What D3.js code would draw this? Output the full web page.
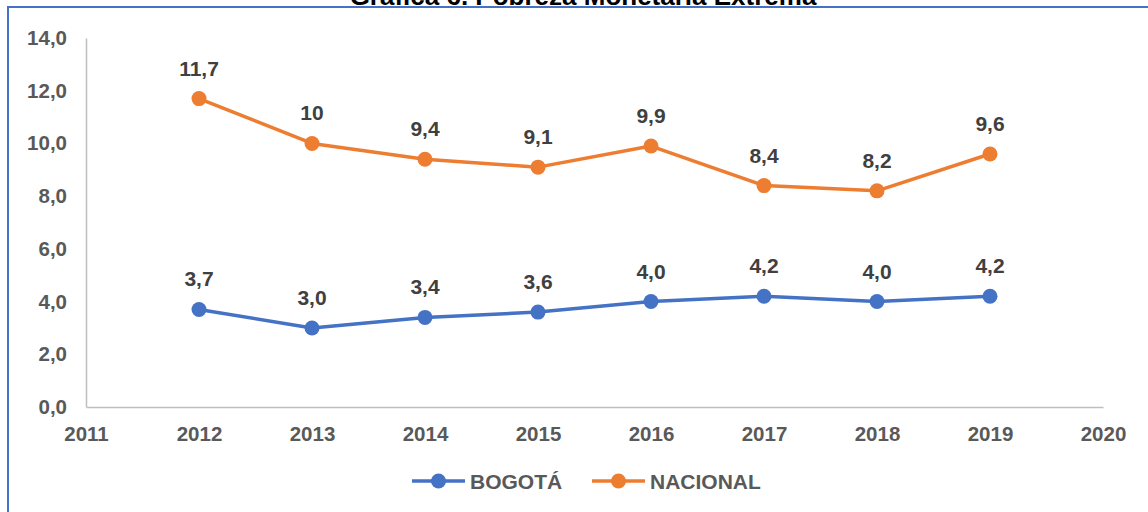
<!DOCTYPE html>
<html>
<head>
<meta charset="utf-8">
<script src="https://cdn.jsdelivr.net/npm/d3@7"></script>
<style>
  html, body { margin: 0; padding: 0; background: #fff; overflow: hidden; }
  text { font-family: "Liberation Sans", Arial, sans-serif; font-weight: bold; }
</style>
</head>
<body>
<div id="chart"></div>
<script>
    // ---------- Data ----------
    const years = [2012, 2013, 2014, 2015, 2016, 2017, 2018, 2019];
    const bogota = [3.7, 3.0, 3.4, 3.6, 4.0, 4.2, 4.0, 4.2];
    const nacional = [11.7, 10, 9.4, 9.1, 9.9, 8.4, 8.2, 9.6];
    const bogotaLabels = ["3,7", "3,0", "3,4", "3,6", "4,0", "4,2", "4,0", "4,2"];
    const nacionalLabels = ["11,7", "10", "9,4", "9,1", "9,9", "8,4", "8,2", "9,6"];
    const yTicks = [0, 2, 4, 6, 8, 10, 12, 14];
    const xTicks = [2011, 2012, 2013, 2014, 2015, 2016, 2017, 2018, 2019, 2020];
    const seriesNames = ["BOGOTÁ", "NACIONAL"];
    const title = "Gráfica 6. Pobreza Monetaria Extrema";

    const W = 1148, H = 512;
    const colors = ["#4472C4", "#ED7D31"];

    const svg = d3.select("#chart").append("svg")
        .attr("width", W)
        .attr("height", H);

    // frame (runs past the window on right and bottom)
    svg.append("rect")
        .attr("x", 8).attr("y", 7)
        .attr("width", 1200).attr("height", 600)
        .attr("fill", "none")
        .attr("stroke", "#4472C4")
        .attr("stroke-width", 2);

    // title, cropped at the top like the source
    svg.append("text")
        .attr("x", 583).attr("y", 5)
        .attr("text-anchor", "middle")
        .attr("font-size", 26)
        .attr("fill", "#000")
        .text(title);

    // ---------- Scales ----------
    const x = d3.scaleLinear().domain([2011, 2020]).range([86, 1103]);
    const y = d3.scaleLinear().domain([0, 14]).range([407, 38]);

    // ---------- Axes ----------
    const fmt = d => d3.format(".1f")(d).replace(".", ",");

    const yAxis = svg.append("g")
        .attr("transform", "translate(86,0)")
        .call(d3.axisLeft(y).tickValues(yTicks).tickSize(0).tickPadding(19).tickFormat(fmt));
    yAxis.select(".domain").attr("stroke", "#BFBFBF").attr("stroke-width", 1.5);
    yAxis.selectAll("text")
        .attr("font-size", 20.5)
        .attr("font-family", "Liberation Sans, Arial, sans-serif")
        .attr("fill", "#595959");

    const xAxis = svg.append("g")
        .attr("transform", "translate(0,407)")
        .call(d3.axisBottom(x).tickValues(xTicks).tickSize(0).tickPadding(19).tickFormat(d3.format("d")));
    xAxis.select(".domain").attr("stroke", "#BFBFBF").attr("stroke-width", 1.5);
    xAxis.selectAll("text")
        .attr("font-size", 20.5)
        .attr("font-family", "Liberation Sans, Arial, sans-serif")
        .attr("fill", "#595959");

    // ---------- Series ----------
    const series = [
        { name: seriesNames[0], values: bogota, labels: bogotaLabels, color: colors[0] },
        { name: seriesNames[1], values: nacional, labels: nacionalLabels, color: colors[1] }
    ];

    const line = d3.line()
        .x((d, i) => x(years[i]))
        .y(d => y(d));

    series.forEach(s => {
        svg.append("path")
            .datum(s.values)
            .attr("fill", "none")
            .attr("stroke", s.color)
            .attr("stroke-width", 3.5)
            .attr("stroke-linejoin", "round")
            .attr("d", line);

        svg.selectAll(null)
            .data(s.values)
            .enter()
            .append("circle")
            .attr("cx", (d, i) => x(years[i]))
            .attr("cy", d => y(d))
            .attr("r", 7.5)
            .attr("fill", s.color);

        svg.selectAll(null)
            .data(s.values)
            .enter()
            .append("text")
            .attr("x", (d, i) => x(years[i]))
            .attr("y", d => y(d) - 23)
            .attr("text-anchor", "middle")
            .attr("font-size", 21)
            .attr("fill", "#404040")
            .text((d, i) => s.labels[i]);
    });

    // ---------- Legend ----------
    const legendPos = [412, 592];
    series.forEach((s, i) => {
        const g = svg.append("g").attr("transform", `translate(${legendPos[i]},481)`);
        g.append("line")
            .attr("x1", 0).attr("x2", 53)
            .attr("stroke", s.color)
            .attr("stroke-width", 3.5);
        g.append("circle")
            .attr("cx", 26.5).attr("r", 7.5)
            .attr("fill", s.color);
        g.append("text")
            .attr("x", 58).attr("y", 7.5)
            .attr("font-size", 21)
            .attr("fill", "#595959")
            .text(s.name);
    });
</script>
</body>
</html>
